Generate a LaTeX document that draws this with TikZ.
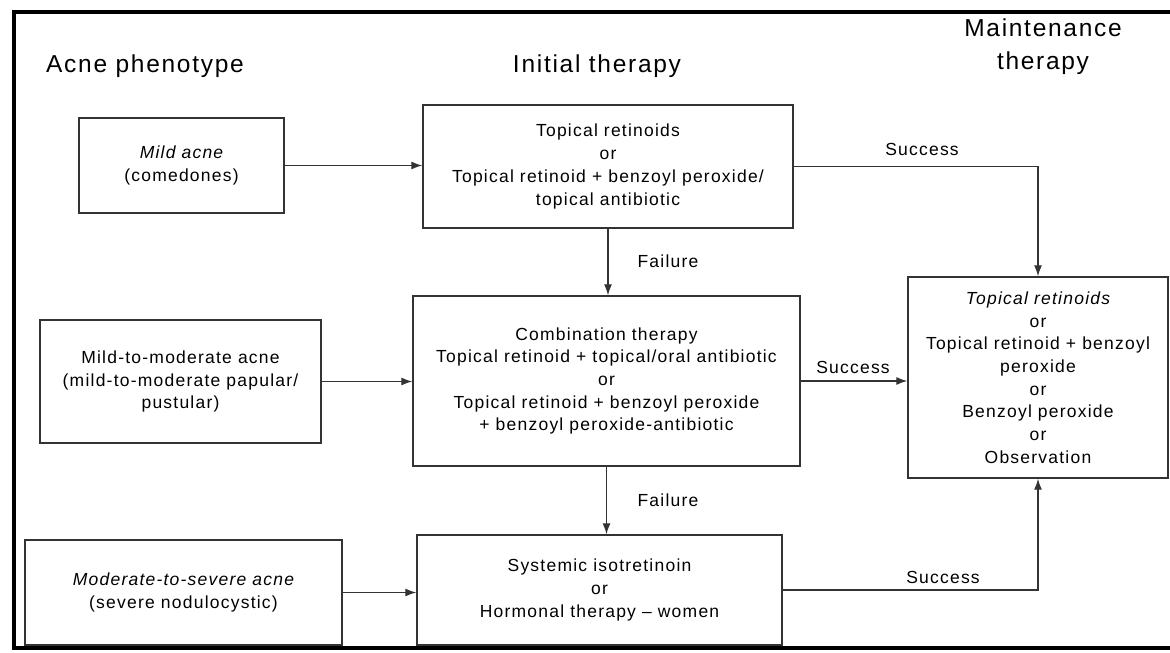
\documentclass[tikz,border=0pt]{standalone}
\usepackage{fontspec}
\setmainfont{Liberation Sans}[LetterSpace=7]
\usepackage{tikz}
\usetikzlibrary{arrows.meta, positioning}
\definecolor{boxgray}{rgb}{0.2, 0.2, 0.2}

\begin{document}
\begin{tikzpicture}[x=1pt, y=-1pt,
	box/.style={draw=boxgray, line width=1.4pt, align=center, inner sep=0pt,
		font=\fontsize{17.5}{22.7}\selectfont},
	head/.style={align=center, font=\fontsize{24.5}{33}\selectfont},
	lbl/.style={font=\fontsize{17.5}{22.7}\selectfont},
	arr/.style={draw=boxgray, line width=1.3pt, -{Latex[length=11pt, width=8pt]}}]
		\useasboundingbox (0,0) rectangle (1170,653);
		% frame
		\draw [line width=4pt] (1170,12)--(14,12)--(14,647.5)--(1170,647.5);
		
		% column heads
		\node [head] (hpheno) at (145,66) {Acne phenotype};
		\node [head] (hinit) at (597,66) {Initial therapy};
		\node [head] (hmaint) at (1043,47) {Maintenance\\therapy};
		
		% phenotype boxes
		\node [box, minimum width=205, minimum height=95] (mild) at (181.5,165.5)
			{\itshape Mild acne\\(comedones)};
		\node [box, minimum width=281, minimum height=123] (midmod) at (180.5,381.5)
			{Mild-to-moderate acne\\(mild-to-moderate papular/\\pustular)};
		\node [box, minimum width=317, minimum height=105] (modsev) at (183.5,592.5)
			{{\itshape Moderate-to-severe acne}\\(severe nodulocystic)};
		
		% initial therapy boxes
		\node [box, minimum width=370, minimum height=123] (topret) at (608,166.5)
			{Topical retinoids\\or\\Topical retinoid + benzoyl peroxide/\\topical antibiotic};
		\node [box, minimum width=387, minimum height=170] (combi) at (606.5,381)
			{Combination therapy\\Topical retinoid + topical/oral antibiotic\\or\\Topical retinoid + benzoyl peroxide\\+ benzoyl peroxide-antibiotic};
		\node [box, minimum width=365, minimum height=110] (system) at (599.5,590)
			{Systemic isotretinoin\\or\\Hormonal therapy -- women};
		
		% maintenance box
		\node [box, minimum width=260, minimum height=201] (maint) at (1038,377.5)
			{{\itshape Topical retinoids}\\or\\Topical retinoid + benzoyl\\peroxide\\or\\Benzoyl peroxide\\or\\Observation};
		
		% phenotype -> initial
		\draw [arr] (mild.east) -- (mild.east -| topret.west);
		\draw [arr] (midmod.east) -- (midmod.east -| combi.west);
		\draw [arr] (modsev.east) -- (modsev.east -| system.west);
		
		% failure
		\draw [arr] (topret.south) -- (topret.south |- combi.north);
		\draw [arr] (combi.south) -- (combi.south |- system.north);
		\node [lbl] (fail1) at (668,261) {Failure};
		\node [lbl] (fail2) at (668,500) {Failure};
		
		% success
		\draw [arr] (topret.east) -| (maint.north);
		\draw [arr] (combi.east) -- (combi.east -| maint.west);
		\draw [arr] (system.east) -| (maint.south);
		\node [lbl] (succ1) at (922,149) {Success};
		\node [lbl] (succ2) at (853,367) {Success};
		\node [lbl] (succ3) at (943,577) {Success};
	\end{tikzpicture}
\end{document}
